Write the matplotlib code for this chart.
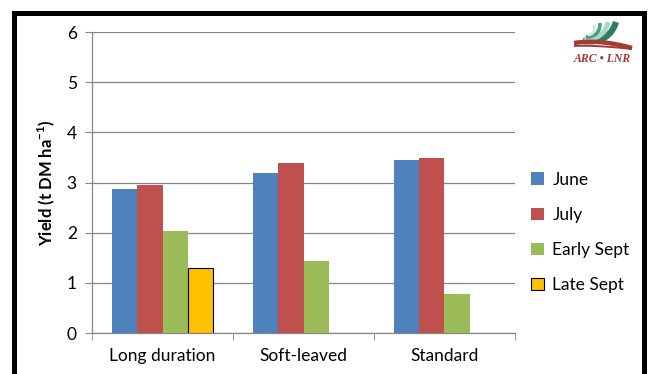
import matplotlib
matplotlib.use("Agg")
import matplotlib.pyplot as plt
import numpy as np
from matplotlib.patches import Rectangle

plt.rcParams['font.family'] = ['Lato', 'DejaVu Sans']

groups = ['Long duration', 'Soft-leaved', 'Standard']
series = ['June', 'July', 'Early Sept', 'Late Sept']
june = [2.87, 3.19, 3.45]
july = [2.95, 3.39, 3.49]
early_sept = [2.03, 1.43, 0.78]
late_sept = [1.29, 0, 0]
colors = ['#4F81BD', '#C0504D', '#9BBB59', '#FFC000']
yticks = [0, 1, 2, 3, 4, 5, 6]

fig = plt.figure(figsize=(6.49, 3.74), dpi=100)
ax = fig.add_axes([0.1418, 0.1096, 0.6517, 0.8048])

x = np.arange(len(groups))
w = 0.18
for i, (name, vals, c) in enumerate(zip(series, [june, july, early_sept, late_sept], colors)):
    pos = x + (i - 1.5) * w
    if name == 'Late Sept':
        keep = [j for j, v in enumerate(vals) if v > 0]
        ax.bar(pos[keep], [vals[j] for j in keep], width=w, color=c,
               edgecolor='black', linewidth=0.8, label=name, zorder=3)
    else:
        ax.bar(pos, vals, width=w, color=c, label=name, zorder=3)

ax.set_xlim(-0.5, 2.5)
ax.set_ylim(0, 6)
ax.set_yticks(yticks)
ax.set_xticks(x)
ax.set_xticklabels(groups, fontsize=12.5)
ax.set_xticks([-0.5, 0.5, 1.5, 2.5], minor=True)
ax.tick_params(axis='x', which='major', length=0, pad=11)
ax.tick_params(axis='x', which='minor', length=5, color='#868686')
ax.tick_params(axis='y', length=5, color='#868686', labelsize=12.5, pad=6)
ax.yaxis.grid(True, color='#868686', linewidth=0.9, zorder=0)
for s in ['top', 'right']:
    ax.spines[s].set_visible(False)
for s in ['left', 'bottom']:
    ax.spines[s].set_color('#868686')
    ax.spines[s].set_linewidth(0.9)
ax.set_ylabel('Yield (t DM ha$^{\\mathregular{-1}}$)', fontsize=12, fontweight='bold', labelpad=7)

ax.legend(loc='center left', bbox_to_anchor=(1.0, 0.334), frameon=False,
          fontsize=12.5, handlelength=0.75, handleheight=0.75, labelspacing=1.1,
          handletextpad=0.5)

# black frame round the chart
fig.patches.append(Rectangle((14.5 / 649, -0.05), 629 / 649, (374 - 12.5) / 374 + 0.05,
                             transform=fig.transFigure, fill=False,
                             edgecolor='black', linewidth=3.6, zorder=10))

# ARC-LNR logo, drawn in pixel units (y pointing down)
lg = fig.add_axes([566 / 649, 1 - 70 / 374, 74 / 649, 52 / 374])
lg.set_xlim(566, 640)
lg.set_ylim(70, 18)
lg.axis('off')


def swoosh(p0, p1, p2, color, lw):
    t = np.linspace(0, 1, 40)[:, None]
    pts = (1 - t) ** 2 * np.array(p0) + 2 * (1 - t) * t * np.array(p1) + t ** 2 * np.array(p2)
    lg.plot(pts[:, 0], pts[:, 1], color=color, lw=lw, solid_capstyle='butt')


swoosh((583, 41), (609, 44), (616, 22), '#2E7D5B', 4.5)
swoosh((584, 39), (604, 40), (608, 22), '#A9D9C6', 3.6)
swoosh((586, 37), (600, 37), (600, 23), '#4F9E80', 2.6)
swoosh((588, 35), (596, 34), (594, 25), '#CDEBDD', 2.0)
swoosh((574, 43), (600, 39), (632, 48), '#A33A36', 3.2)
swoosh((574, 46), (596, 45), (632, 49), '#A33A36', 1.4)
lg.text(602, 59, 'ARC \u2022 LNR', ha='center', va='center', fontsize=8.5,
        color='#A33A36', style='italic', fontweight='bold', family='Liberation Serif')

fig.savefig('out.png', dpi=100)
